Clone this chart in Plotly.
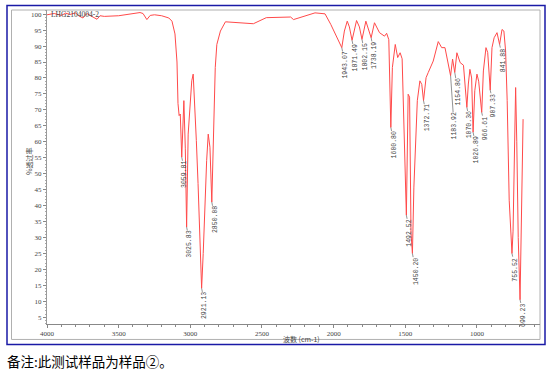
import numpy as np
import plotly.graph_objects as go

# ---- data ----
wavenumber = [4000, 3950, 3900, 3870, 3840, 3800, 3780, 3749, 3735, 3720, 3700, 3651, 3630, 3600,
              3500, 3450, 3351, 3330, 3303, 3280, 3250, 3200, 3150, 3128, 3107, 3093, 3086, 3078,
              3070, 3059.81, 3045, 3035, 3025.83, 3015, 3003, 2990, 2980, 2970, 2958, 2946, 2934,
              2921.13, 2910, 2898, 2886, 2875, 2863, 2850.08, 2838, 2826, 2815, 2790, 2755, 2650,
              2560, 2470, 2300, 2280, 2190, 2130, 2060, 2020, 1943.07, 1925, 1905, 1890, 1871.49,
              1840, 1820, 1802.15, 1775, 1755, 1738.19, 1715, 1680, 1645, 1630, 1615, 1608, 1600.80,
              1590, 1570, 1553, 1536, 1522, 1510, 1492.52, 1480, 1470, 1460, 1450.20, 1440, 1416,
              1398, 1385, 1372.71, 1355, 1340, 1305, 1270, 1246, 1223, 1200, 1183.92, 1170, 1154.86,
              1140, 1117, 1094, 1070.36, 1060, 1049, 1037, 1026.89, 1015, 1000, 988, 966.61, 955,
              937, 925, 907.33, 895, 880, 860, 850, 841.88, 825, 812, 800, 789, 775, 755.52, 748,
              740, 730, 722, 712, 699.23, 692, 678]
transmittance = [99.8, 100.2, 99.6, 100.3, 99.9, 100.4, 99.5, 98.8, 99.6, 100.2, 99.6, 98.4, 99.5, 99.3,
                 99.5, 99.9, 100.5, 100.2, 98.3, 99.6, 99.8, 99.5, 98.8, 97.8, 93.8, 85.0, 72.0, 68.2,
                 68.7, 55.2, 72.9, 58.0, 33.3, 62.4, 69.7, 79.1, 81.2, 72.9, 60.4, 46.9, 31.3,
                 14.1, 25.0, 41.7, 54.1, 62.4, 58.3, 41.1, 62.4, 83.3, 90.5, 94.7, 97.6, 97.3,
                 97.0, 98.9, 99.1, 98.3, 99.7, 100.4, 100.1, 96.8, 89.5, 94.7, 97.8, 96.0, 91.8,
                 98.0, 96.0, 92.1, 97.8, 95.0, 92.6, 97.3, 94.2, 93.1, 94.0, 92.0, 78.0, 64.5,
                 83.3, 90.5, 86.4, 87.9, 86.0, 67.6, 37.0, 74.9, 74.0, 31.3, 25.0, 45.8, 72.9,
                 79.1, 78.0, 72.9, 80.1, 81.7, 85.3, 91.4, 89.5, 89.5, 84.3, 80.7, 85.9, 81.7,
                 87.9, 84.8, 84.0, 70.8, 78.1, 82.7, 80.0, 63.0, 76.0, 81.2, 79.0, 69.2, 82.2,
                 89.5, 88.0, 76.2, 89.5, 92.6, 94.2, 92.6, 90.5, 95.2, 94.7, 88.5, 72.9, 41.7, 25.0, 32.0,
                 57.0, 77.0, 60.0, 30.0, 10.5, 31.0, 67.1]

peak_wn = [3059.81, 3025.83, 2921.13, 2850.08, 1943.07, 1871.49, 1802.15, 1738.19, 1600.80,
           1492.52, 1450.20, 1372.71, 1183.92, 1154.86, 1070.36, 1026.89, 966.61, 907.33,
           841.88, 755.52, 699.23]
peak_text = ["3059.81", "3025.83", "2921.13", "2850.08", "1943.07", "1871.49", "1802.15", "1738.19",
             "1600.80", "1492.52", "1450.20", "1372.71", "1183.92", "1154.86", "1070.36", "1026.89",
             "966.61", "907.33", "841.88", "755.52", "699.23"]

x_tick_vals = [4000, 3500, 3000, 2500, 2000, 1500, 1000]
y_tick_vals = list(range(5, 101, 5))

sample_id = "LHG2104004-2"
x_title = "波数 (cm-1)"
y_title = "%透过率"
footnote = "备注:此测试样品为样品②。"

# ---- layout geometry (pixels) ----
W, H = 553, 375
L, R, T, B = 47, 540, 9.5, 324.5
pw, ph = R - L, B - T


def px(xp):
    return (xp - L) / pw


def py(yp):
    return (B - yp) / ph


fig = go.Figure()
fig.add_trace(go.Scatter(x=wavenumber, y=transmittance, mode="lines",
                         line=dict(color="#ff4a4a", width=1), hoverinfo="skip"))

peak_T = np.interp(peak_wn[::-1], wavenumber[::-1], transmittance[::-1])[::-1]
line_len = {"1183.92": 36, "1154.86": 5}
annotations = []
for wn, tv, txt in zip(peak_wn, peak_T, peak_text):
    ln = line_len.get(txt, 3)
    tl = len(txt) * 3.9
    annotations.append(dict(x=wn, y=float(tv), xref="x", yref="y", text=txt, textangle=-90,
                            showarrow=True, arrowhead=0, arrowwidth=0.8, arrowcolor="#777",
                            ax=3.5, ay=ln + tl / 2 + 1, standoff=0, borderpad=0,
                            font=dict(family="Liberation Mono", size=6.5, color="#444")))

annotations.append(dict(x=px(49), y=py(14), xref="paper", yref="paper", text=sample_id,
                        showarrow=False, xanchor="left", yanchor="middle",
                        font=dict(family="Liberation Serif", size=7.5, color="#444")))
annotations.append(dict(x=px(301), y=py(340), xref="paper", yref="paper", text=x_title,
                        showarrow=False, xanchor="center", yanchor="middle",
                        font=dict(family="Noto Sans CJK SC", size=7, color="#444")))
annotations.append(dict(x=px(29), y=py(162), xref="paper", yref="paper", text=y_title,
                        showarrow=False, textangle=-90, xanchor="center", yanchor="middle",
                        font=dict(family="Noto Sans CJK SC", size=7, color="#444")))
annotations.append(dict(x=px(5), y=py(362), xref="paper", yref="paper", text=footnote,
                        showarrow=False, xanchor="left", yanchor="middle",
                        font=dict(family="Noto Sans CJK SC", size=13.5, color="#000")))

shapes = [
    dict(type="rect", xref="paper", yref="paper", x0=px(7), x1=px(545), y0=py(345), y1=py(5),
         line=dict(color="#1a1aa6", width=1.5), layer="below"),
    dict(type="rect", xref="paper", yref="paper", x0=px(11.5), x1=px(540), y0=py(340), y1=py(9.5),
         line=dict(color="#b0b0b0", width=1), layer="below"),
]

fig.update_layout(
    width=W, height=H, autosize=False,
    margin=dict(l=L, r=W - R, t=T, b=H - B, pad=0),
    paper_bgcolor="white", plot_bgcolor="white",
    showlegend=False,
    annotations=annotations, shapes=shapes,
    xaxis=dict(range=[4000, 560], tickvals=x_tick_vals, ticktext=[str(v) for v in x_tick_vals],
               showgrid=False, zeroline=False, showline=True, linecolor="#888", linewidth=1,
               ticks="outside", ticklen=3, tickcolor="#888", tickwidth=1,
               minor=dict(dtick=100, ticks="outside", ticklen=2, tickcolor="#888", tick0=0),
               tickfont=dict(family="Liberation Serif", size=7, color="#444")),
    yaxis=dict(range=[2.9, 101.3], tickvals=y_tick_vals, ticktext=[str(v) for v in y_tick_vals],
               showgrid=False, zeroline=False, showline=True, linecolor="#999", linewidth=1,
               ticks="outside", ticklen=3, tickcolor="#888", tickwidth=1,
               minor=dict(dtick=1, ticks="outside", ticklen=1.5, tickcolor="#aaa", tick0=0),
               tickfont=dict(family="Liberation Serif", size=7, color="#444")),
)

fig.write_html("out.html")
